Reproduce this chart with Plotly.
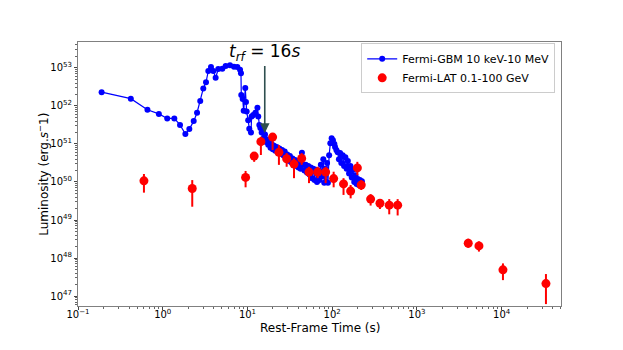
import plotly.graph_objects as go

# ---- Fermi-GBM (10 keV - 10 MeV): rest-frame time (s) and log10 luminosity (erg/s)
gbm_time = [0.19, 0.42, 0.66, 0.90, 1.13, 1.37, 1.60, 1.85, 2.06, 2.32, 2.54, 2.77, 3.01, 3.24,
            3.45, 3.71, 3.95, 4.21, 4.52, 5.05, 5.53, 6.22, 6.94, 7.59, 8.17, 8.38, 8.45, 8.78,
            9.02, 9.42, 9.6, 9.78, 10.2, 10.5, 11.0, 11.2, 11.7, 12.4, 13.1, 13.4, 13.8, 14.2,
            14.7, 15.2, 15.7, 16.1, 16.6, 17.1, 17.6, 18.1, 18.7, 19.3, 19.9, 20.6, 21.3, 22.1,
            22.9, 23.8, 24.7, 25.6, 26.5, 27.5, 28.5, 29.5, 30.6, 31.7, 32.8, 34.0, 35.2, 36.5,
            37.8, 39.1, 40.0, 41.0, 42.4, 43.9, 45.4, 47.0, 48.6, 50.3, 52.1, 53.9, 55.8, 57.7,
            59.7, 61.8, 64.0, 66.2, 68.5, 70.9, 73.4, 75.9, 78.5, 80.5, 82.0, 84.5, 87.0, 89.0,
            92.0, 95.0, 98.5, 102, 106, 108, 112, 116, 120, 124, 128, 133, 138, 143, 148, 153,
            158, 164, 170, 176, 182, 188, 194, 200, 206, 212, 218, 224]
gbm_loglum = [52.36, 52.19, 51.90, 51.79, 51.67, 51.67, 51.50, 51.26, 51.39, 51.60, 51.82, 52.13, 52.46, 52.62,
              52.92, 53.02, 52.92, 52.74, 52.97, 52.98, 53.05, 53.07, 53.03, 53.02, 52.95, 52.86, 52.29, 52.18,
              51.87, 52.47, 52.10, 51.85, 51.62, 51.40, 51.30, 51.72, 51.76, 51.82, 51.95, 51.72, 51.50, 51.42,
              51.30, 51.32, 51.18, 51.25, 51.05, 51.12, 50.98, 51.04, 50.90, 51.00, 50.86, 50.95, 50.82, 50.92,
              50.78, 50.88, 50.74, 50.84, 50.70, 50.80, 50.62, 50.72, 50.56, 50.68, 50.52, 50.62, 50.45, 50.58,
              50.42, 50.55, 50.38, 50.50, 50.35, 50.77, 50.45, 50.30, 50.45, 50.25, 50.42, 50.20, 50.38, 50.10,
              50.35, 50.05, 50.32, 50.00, 50.30, 50.05, 50.45, 50.15, 50.60, 49.98, 50.35, 50.00, 50.50, 49.98,
              50.70, 51.02, 51.15, 51.10, 51.00, 50.92, 50.84, 50.78, 50.60, 50.76, 50.50, 50.70, 50.42, 50.65,
              50.35, 50.55, 50.22, 50.42, 50.12, 50.32, 50.00, 50.18, 49.95, 50.08, 49.92, 50.05, 49.90, 50.02]

# ---- Fermi-LAT (0.1 - 100 GeV): time (s), log10 luminosity, upper and lower error-bar ends (log10)
lat_time = [0.60, 2.23, 9.5, 12.0, 14.4, 19.8, 23.5, 29.0, 35.4, 43.6, 53.2, 67.3, 83.7, 104,
            136, 165, 198, 220, 284, 366, 471, 592, 4030, 5390, 10350, 33300]
lat_loglum = [50.03, 49.83, 50.12, 50.68, 51.06, 51.18, 50.78, 50.61, 50.47, 50.62, 50.26, 50.26, 50.26, 50.09,
              49.95, 49.76, 50.37, 49.92, 49.55, 49.44, 49.39, 49.39, 48.39, 48.32, 47.69, 47.33]
lat_logup = [50.21, 50.05, 50.29, 50.77, 51.19, 51.28, 50.97, 50.76, 50.62, 50.76, 50.40, 50.40, 50.40, 50.27,
             50.10, 49.92, 50.53, 50.05, 49.68, 49.55, 49.55, 49.55, 48.51, 48.44, 47.86, 47.58]
lat_logdown = [49.72, 49.35, 49.86, 50.53, 50.71, 50.84, 50.45, 50.40, 50.10, 50.45, 49.97, 50.10, 49.97, 49.86,
               49.66, 49.57, 50.18, 49.79, 49.38, 49.29, 49.15, 49.12, 48.27, 48.17, 47.42, 46.79]

# ---- tick labels
x_tick_exponents = [-1, 0, 1, 2, 3, 4]
y_tick_exponents = [47, 48, 49, 50, 51, 52, 53]

gbm_lum = [10.0 ** v for v in gbm_loglum]
lat_lum = [10.0 ** v for v in lat_loglum]
lat_plus = [10.0 ** u - 10.0 ** v for u, v in zip(lat_logup, lat_loglum)]
lat_minus = [10.0 ** v - 10.0 ** d for v, d in zip(lat_loglum, lat_logdown)]

def power_label(e):
    return "10<sup>%s</sup>" % (str(e).replace("-", "−"))

fig = go.Figure()
fig.add_trace(go.Scatter(
    x=gbm_time, y=gbm_lum, mode="lines+markers", name="Fermi-GBM 10 keV-10 MeV",
    line=dict(color="#0000ff", width=1.2),
    marker=dict(color="#0000ff", size=6),
))
fig.add_trace(go.Scatter(
    x=lat_time, y=lat_lum, mode="markers", name="Fermi-LAT 0.1-100 GeV",
    marker=dict(color="#ff0000", size=9),
    error_y=dict(type="data", array=lat_plus, arrayminus=lat_minus, color="#ff0000",
                 thickness=2, width=0, symmetric=False),
))

axis_common = dict(
    type="log", showline=True, mirror=True, linecolor="#808080", linewidth=1,
    ticks="outside", ticklen=3, tickcolor="#444", showgrid=False, zeroline=False,
    automargin=False,
    tickfont=dict(family="DejaVu Sans", size=10, color="#000"),
    minor=dict(ticks="outside", ticklen=2, tickcolor="#666", dtick="D1", showgrid=False),
)

fig.update_xaxes(range=[-1, 4.70],
                 tickvals=[10.0 ** e for e in x_tick_exponents],
                 ticktext=[power_label(e) for e in x_tick_exponents],
                 ticklabelstandoff=-4,
                 **axis_common)
fig.update_yaxes(range=[46.74, 53.68],
                 tickvals=[10.0 ** e for e in y_tick_exponents],
                 ticktext=[power_label(e) for e in y_tick_exponents],
                 **axis_common)

# axis titles (placed as paper annotations for exact positioning)
fig.add_annotation(text="Rest-Frame Time (s)", xref="paper", yref="paper", x=0.5, y=-0.083,
                   xanchor="center", yanchor="middle", showarrow=False,
                   font=dict(family="DejaVu Sans", size=12, color="#000"))
fig.add_annotation(text="Luminosity (erg.<i>s</i><sup>−</sup>1)", xref="paper", yref="paper",
                   x=-0.073, y=0.5, xanchor="center", yanchor="middle", textangle=-90,
                   showarrow=False, font=dict(family="DejaVu Sans", size=12, color="#000"))

fig.add_annotation(
    x=1.204, y=51.29, xref="x", yref="y",
    text="<i>t</i><sub><i>rf</i></sub> = 16<i>s</i>",
    showarrow=True, arrowhead=2, arrowsize=1.2, arrowwidth=1.6, arrowcolor="#2f4f4f",
    ax=0, ay=-80, font=dict(family="DejaVu Sans", size=17, color="#000"),
)

fig.update_layout(
    width=623, height=350,
    margin=dict(l=70, r=70, t=34, b=52),
    paper_bgcolor="white", plot_bgcolor="white",
    font=dict(family="DejaVu Sans", color="#000"),
    legend=dict(x=0.988, y=0.995, xanchor="right", yanchor="top",
                bordercolor="#cccccc", borderwidth=1, bgcolor="rgba(255,255,255,0.8)",
                font=dict(family="DejaVu Sans", size=11), itemwidth=30, tracegroupgap=2),
    showlegend=True,
)

fig.write_html("out.html")
